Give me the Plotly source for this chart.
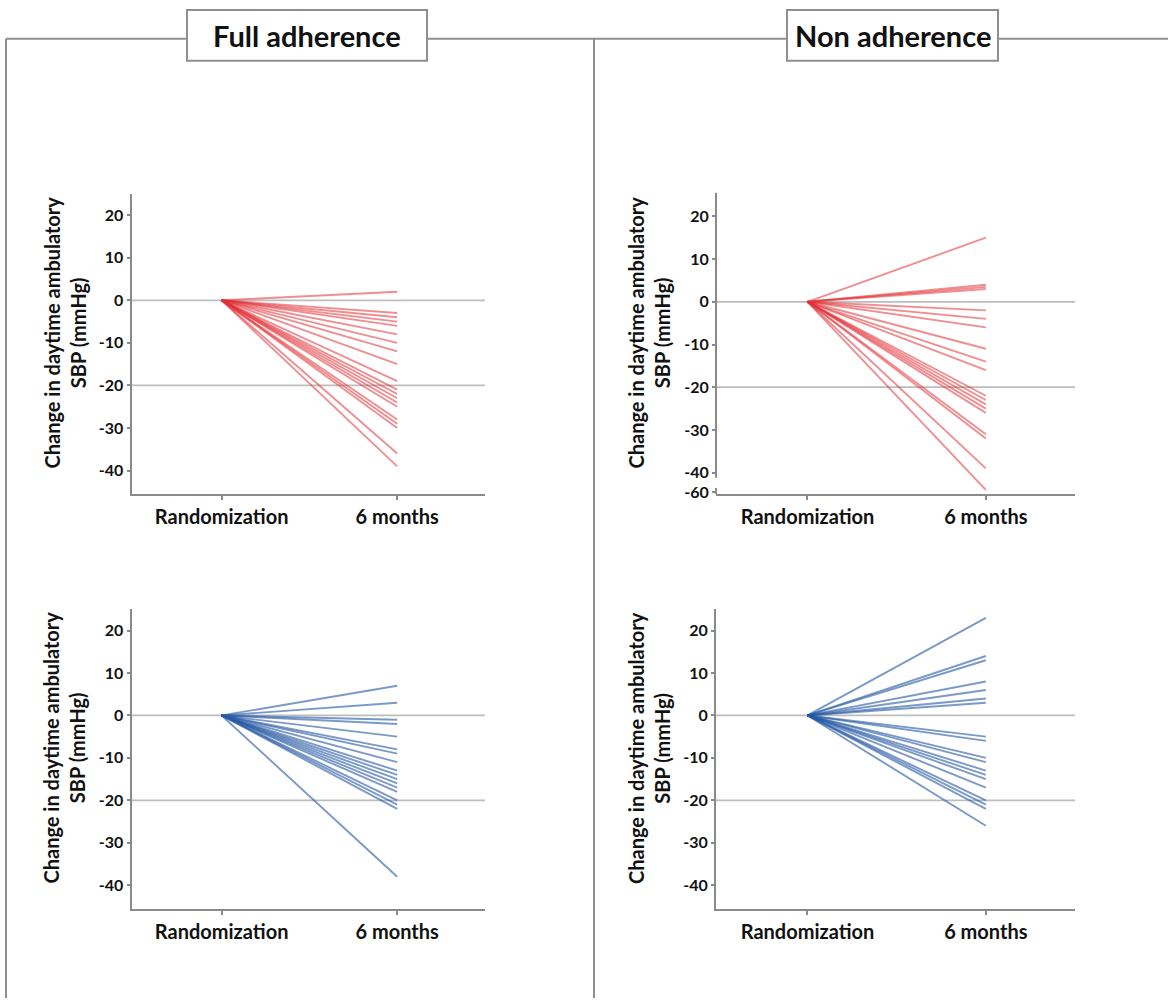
import plotly.graph_objects as go

# ---------------- data ----------------
timepoints = ["Randomization", "6 months"]
y_ticks = [20, 10, 0, -10, -20, -30, -40]

# change in daytime ambulatory SBP (mmHg) at 6 months, one value per patient
full_adherence_red = [2, -3, -4, -5, -6, -8, -10, -12, -15, -19, -21, -22, -23,
                      -24, -25, -28, -29, -30, -36, -39]
non_adherence_red = [15, 4, 3.5, 3, -2, -4, -6, -11, -14, -16, -22, -23, -24,
                     -25, -26, -31, -32, -39, -58]
full_adherence_blue = [7, 3, -1, -2, -5, -8, -9, -11, -13, -14, -15, -16, -17,
                       -18, -20, -21, -22, -38]
non_adherence_blue = [23, 14, 13, 8, 6, 4, 3, -5, -6, -10, -11, -13, -14, -15,
                      -17, -20, -21, -22, -26]

panel_titles = ["Full adherence", "Non adherence"]
y_title = "Change in daytime ambulatory<br>SBP (mmHg)"

# ---------------- layout helpers ----------------
W, H = 1168, 1004
FONT = "Lato"
RED = "rgba(225,50,55,0.55)"
BLUE = "rgba(40,90,165,0.62)"
AXIS = "#8a8a8a"
REF = "#bdbdbd"
FRAME = "#8f8f8f"
TXT = "#111111"


def px(x):
    return x / W


def py(y):
    return 1 - y / H


# axis break on the top-right panel: values below -40 are compressed
def brk(v):
    return v if v >= -40 else -40 + (v + 40) * 0.225


fig = go.Figure()

panels = [
    # (values, color, xaxis id, yaxis id, xdomain px, ydomain px, broken)
    (full_adherence_red, RED, "x", "y", (131.5, 485), (195, 497), False),
    (non_adherence_red, RED, "x2", "y2", (716, 1075), (194, 497), True),
    (full_adherence_blue, BLUE, "x3", "y3", (131.5, 485), (613, 914), False),
    (non_adherence_blue, BLUE, "x4", "y4", (716, 1075), (613, 914), False),
]

shapes = []
annotations = []

for vals, col, xa, ya, xd, yd, broken in panels:
    for v in vals:
        yv = brk(v) if broken else v
        fig.add_trace(go.Scatter(
            x=[0, 1], y=[0, yv], mode="lines", xaxis=xa, yaxis=ya,
            line=dict(color=col, width=1.9), showlegend=False, hoverinfo="skip"))

    xkey = "xaxis" + xa[1:]
    ykey = "yaxis" + ya[1:]
    yr = [-45, 25.5] if broken else [-45.5, 25]
    tv = y_ticks + ([brk(-60)] if broken else [])
    tt = [str(t) for t in y_ticks] + (["-60"] if broken else [])

    fig.layout[xkey] = dict(
        domain=[px(xd[0]), px(xd[1])], anchor=ya, range=[-0.513, 1.5],
        tickvals=[0, 1], ticktext=timepoints, showgrid=False, zeroline=False,
        showline=True, linecolor=AXIS, linewidth=2, ticks="outside",
        ticklen=4, tickcolor=AXIS, tickwidth=1.5,
        tickfont=dict(family=FONT, size=20, color=TXT, weight="bold"),
        fixedrange=True)
    fig.layout[ykey] = dict(
        domain=[py(yd[1]), py(yd[0])], anchor=xa, range=yr,
        tickvals=tv, ticktext=tt, showgrid=False, zeroline=False,
        showline=not broken, linecolor=AXIS, linewidth=2, ticks="outside",
        ticklen=3, tickcolor=AXIS, tickwidth=1.5,
        tickfont=dict(family=FONT, size=16, color=TXT, weight="bold"),
        fixedrange=True)

    # reference lines at 0 and -20
    for r in (0, -20):
        shapes.append(dict(type="line", xref=xa + " domain", yref=ya,
                           x0=0, x1=1, y0=r, y1=r, layer="below",
                           line=dict(color=REF, width=1.8)))
    if broken:
        shapes.append(dict(type="line", xref=xa + " domain", yref=ya,
                           x0=0, x1=0, y0=25.5, y1=-41.2,
                           line=dict(color=AXIS, width=2)))
        shapes.append(dict(type="line", xref=xa + " domain", yref=ya,
                           x0=0, x1=0, y0=-43.6, y1=-45,
                           line=dict(color=AXIS, width=2)))

    # y-axis title
    annotations.append(dict(
        text=y_title, textangle=-90, xref="paper", yref="paper",
        x=px(xd[0] - 67), y=py((yd[0] + yd[1]) / 2 - 11),
        showarrow=False, xanchor="center", yanchor="middle",
        font=dict(family=FONT, size=20, color=TXT, weight="bold")))

# outer frames
frame_lines = [
    ((6, 39), (6, 1004)), ((594, 39), (594, 1004)),
    ((6, 39), (187, 39)), ((427, 39), (594, 39)),
    ((594, 39), (787, 39)), ((998, 39), (1168, 39)),
]
for (x0, y0), (x1, y1) in frame_lines:
    shapes.append(dict(type="line", xref="paper", yref="paper",
                       x0=px(x0), y0=py(y0), x1=px(x1), y1=py(y1),
                       line=dict(color=FRAME, width=2)))

for title, (bx0, bx1) in zip(panel_titles, [(187, 427), (787, 998)]):
    shapes.append(dict(type="rect", xref="paper", yref="paper",
                       x0=px(bx0), x1=px(bx1), y0=py(61), y1=py(10),
                       line=dict(color=FRAME, width=2), fillcolor="white"))
    annotations.append(dict(
        text=title, xref="paper", yref="paper", x=px((bx0 + bx1) / 2),
        y=py(36), showarrow=False, xanchor="center", yanchor="middle",
        font=dict(family=FONT, size=29, color=TXT, weight="bold")))

fig.update_layout(
    width=W, height=H, margin=dict(l=0, r=0, t=0, b=0),
    paper_bgcolor="white", plot_bgcolor="white",
    shapes=shapes, annotations=annotations, showlegend=False)

fig.write_html("out.html", config={"displayModeBar": False},
               post_script="document.body.style.margin='0px';"
                           "document.body.style.overflow='hidden';")
